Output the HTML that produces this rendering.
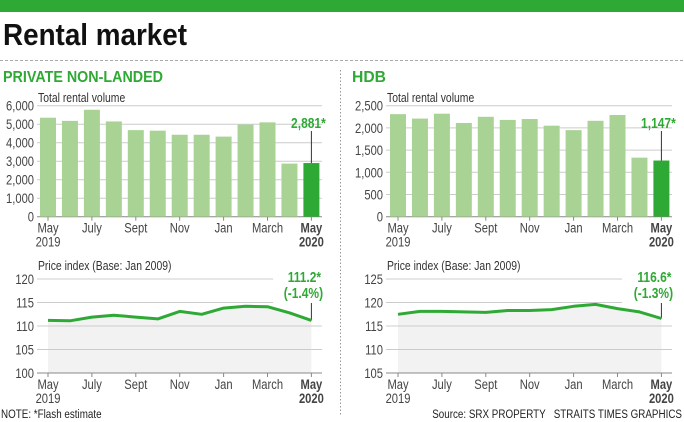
<!DOCTYPE html>
<html><head><meta charset="utf-8"><style>
html,body{margin:0;padding:0;background:#fff}
svg{display:block}
text{font-family:"Liberation Sans",sans-serif}
</style></head><body>
<svg id="s" width="684" height="422" xmlns="http://www.w3.org/2000/svg">
<rect x="0" y="0" width="684" height="12" fill="#2fa935"/>
<text x="3" y="45" font-size="31" font-weight="bold" fill="#111" textLength="184" lengthAdjust="spacingAndGlyphs">Rental market</text>
<line x1="0" y1="60.5" x2="684" y2="60.5" stroke="#aaa" stroke-dasharray="3,2"/>
<line x1="340.5" y1="70" x2="340.5" y2="416" stroke="#999" stroke-dasharray="1.5,2"/>
<text x="3" y="82" font-size="16" font-weight="bold" fill="#2fa935" textLength="160" lengthAdjust="spacingAndGlyphs">PRIVATE NON-LANDED</text>
<text x="352" y="82" font-size="16" font-weight="bold" fill="#2fa935" textLength="34" lengthAdjust="spacingAndGlyphs">HDB</text>
<g transform="translate(1,418) scale(0.82,1)"><text x="0" y="0" font-size="12" fill="#222">NOTE: *Flash estimate</text></g>
<g transform="translate(682,418) scale(0.82,1)"><text x="0" y="0" font-size="12" fill="#222" text-anchor="end" xml:space="preserve">Source: SRX PROPERTY   STRAITS TIMES GRAPHICS</text></g>
<g id="g"></g>
</svg>
<script>
var NS="http://www.w3.org/2000/svg",g=document.getElementById('g');
function el(t,a,txt){var e=document.createElementNS(NS,t);for(var k in a)e.setAttribute(k,a[k]);if(txt!=null)e.textContent=txt;g.appendChild(e);return e;}
function tx(x,y,s,a){var gg=document.createElementNS(NS,'g');gg.setAttribute('transform','translate('+x+','+y+') scale(0.8,1)');
 var e=document.createElementNS(NS,'text');e.setAttribute('x',0);e.setAttribute('y',0);for(var k in a)e.setAttribute(k,a[k]);e.textContent=s;gg.appendChild(e);g.appendChild(gg);}
function panel(o){
 var x0=o.x0,p=21.95,bw=16,base=216.7,top=105.7;
 for(var i=0;i<=o.n;i++){var y=base-(base-top)*i/o.n;
  el('line',{x1:o.gl,x2:o.gr,y1:y,y2:y,stroke:i==0?'#888':'#ccc','stroke-width':1});
  tx(o.gl-3,y+5,o.lab[i],{'font-size':14,fill:'#444','text-anchor':'end'});}
 el('rect',{x:o.gl+1,y:92,width:100,height:12,fill:'#fff'});
 tx(o.gl+1,102,'Total rental volume',{'font-size':13,fill:'#333'});
 for(var i=0;i<13;i++){var h=o.bars[i]/o.max*(base-top);
  el('rect',{x:x0+i*p,y:base-h,width:bw,height:h,fill:i==12?'#2fa935':'#a9d394'});}
 var lx=x0+12*p+bw/2;
 el('line',{x1:lx,x2:lx,y1:131,y2:base-o.bars[12]/o.max*(base-top),stroke:'#333'});
 tx(lx-3,128,o.blab,{'font-size':15,'font-weight':'bold',fill:'#2fa935','text-anchor':'middle'});
 var mn=['May','July','Sept','Nov','Jan','March','May'];
 function xlabels(yb){for(var k=0;k<7;k++){var cx=x0+k*2*p+bw/2;
   el('line',{x1:cx,x2:cx,y1:yb,y2:yb+4,stroke:'#888'});
   tx(cx,yb+16,mn[k],{'font-size':14,fill:'#444','text-anchor':'middle','font-weight':k==6?'bold':'normal'});}
  tx(x0+bw/2,yb+30,'2019',{'font-size':14,fill:'#444','text-anchor':'middle'});
  tx(lx,yb+30,'2020',{'font-size':14,fill:'#444','text-anchor':'middle','font-weight':'bold'});}
 xlabels(base);
 var pt=279,pb=373;function py(v){return pb-(v-o.pmin)/20*(pb-pt);}
 var pts=o.price.map(function(v,i){return (x0+i*p+bw/2).toFixed(1)+','+py(v).toFixed(1);});
 el('polygon',{points:pts.join(' ')+' '+lx+','+pb+' '+(x0+bw/2)+','+pb,fill:'#f2f2f2'});
 for(var i=0;i<5;i++){var y=pb-(pb-pt)*i/4;
  el('line',{x1:o.gl,x2:i>=3?o.gl+236:o.gr,y1:y,y2:y,stroke:i==0?'#888':'#ccc'});
  tx(o.gl-3,y+5,String(o.pmin+5*i),{'font-size':14,fill:'#444','text-anchor':'end'});}
 el('rect',{x:o.gl+1,y:258,width:140,height:14,fill:'#fff'});
 tx(o.gl+1,270,'Price index (Base: Jan 2009)',{'font-size':13,fill:'#333'});
 el('line',{x1:lx,x2:lx,y1:303,y2:py(o.price[12]),stroke:'#333'});
 el('polyline',{points:pts.join(' '),fill:'none',stroke:'#2fa935','stroke-width':3,'stroke-linejoin':'round'});
 tx(lx-7,282,o.pl1,{'font-size':15,'font-weight':'bold',fill:'#2fa935','text-anchor':'middle'});
 tx(lx-8,298,o.pl2,{'font-size':15,'font-weight':'bold',fill:'#2fa935','text-anchor':'middle'});
 xlabels(pb);
}
panel({x0:40,gl:37,gr:322,n:6,max:6000,lab:['0','1,000','2,000','3,000','4,000','5,000','6,000'],
 bars:[5350,5180,5780,5150,4680,4650,4430,4430,4330,4980,5100,2870,2900],blab:'2,881*',
 pmin:100,price:[111.2,111.1,111.9,112.3,111.9,111.5,113.1,112.5,113.8,114.2,114.1,112.8,111.2],pl1:'111.2*',pl2:'(-1.4%)'});
panel({x0:390,gl:386,gr:672,n:5,max:2500,lab:['0','500','1,000','1,500','2,000','2,500'],
 bars:[2310,2210,2320,2110,2250,2180,2200,2050,1950,2160,2290,1330,1265],blab:'1,147*',
 pmin:105,price:[117.5,118.1,118.1,118.0,117.9,118.3,118.3,118.5,119.2,119.6,118.7,118.0,116.6],pl1:'116.6*',pl2:'(-1.3%)'});
</script>
</body></html>
